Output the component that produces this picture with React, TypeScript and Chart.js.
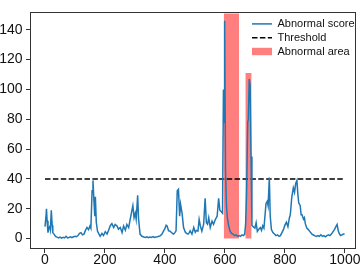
import React, { useEffect, useRef } from "react";
import { Chart, registerables } from "chart.js";

Chart.register(...registerables);

// ---- data ----
const scoreT = [
  0, 3, 5, 7, 10, 13, 16, 18, 21, 24, 26, 30, 35, 40, 45, 50, 55, 60, 65, 70,
  75, 80, 85, 90, 95, 100, 105, 110, 115, 120, 125, 130, 135, 140, 145, 150, 153, 157, 160, 163,
  166, 168, 171, 175, 180, 184, 190, 195, 201, 207, 212, 218, 223, 229, 234, 240, 245, 251, 257, 262,
  268, 273, 279, 284, 290, 293, 297, 301, 304, 309, 312, 317, 323, 330, 335, 340, 345, 350, 355, 360,
  365, 370, 375, 380, 385, 390, 395, 399, 404, 407, 412, 417, 421, 425, 429, 433, 437, 441, 445, 449,
  452, 457, 462, 468, 472, 477, 481, 484, 490, 496, 501, 505, 510, 514, 518, 523, 529, 534, 538, 542,
  546, 551, 557, 562, 568, 574, 579, 583, 588, 592, 595, 597, 599, 602, 605, 608, 612, 617, 622, 627,
  632, 637, 642, 647, 652, 657, 662, 666, 669, 672, 676, 678, 681, 684, 687, 690, 694, 700, 704, 708,
  713, 718, 722, 726, 730, 733, 737, 741, 744, 748, 751, 755, 760, 765, 770, 775, 780, 785, 790, 795,
  800, 805, 810, 815, 818, 823, 828, 832, 836, 840, 843, 846, 851, 854, 857, 862, 865, 868, 873, 878,
  884, 890, 895, 900, 905, 910, 915, 920, 925, 930, 935, 940, 945, 950, 955, 960, 965, 970, 974, 978,
  982, 986, 990, 995, 999,
];
const scoreV = [
  8, 14, 20, 12, 4, 7, 8, 6, 19, 9, 4, 3, 1.5, 1, 0.5, 1, 0.3, 0.8, 0.4, 1.5,
  0.5, 0.7, 1.2, 0.6, 1.2, 1.5, 1.2, 2, 3.5, 4, 2.5, 3, 5.5, 7.5, 6, 8.5, 7, 32, 39, 26,
  15, 28, 11, 5, 3, 1.5, 3.5, 2, 4.6, 3, 5.6, 8.8, 10, 7.4, 9.5, 8.5, 6.3, 7.4, 4, 8.5,
  5.6, 9.5, 7.4, 12.8, 19, 22, 14, 17, 13, 29, 13, 3, 1.5, 1, 0.8, 1.2, 0.6, 1, 0.8, 1.3,
  0.7, 1, 1.2, 1.5, 2, 3, 5, 6.3, 9, 8.5, 5.2, 5, 4.2, 3.5, 3, 4, 5.2, 32, 33, 15,
  23, 17, 7.4, 4.2, 3.5, 3, 4, 5.2, 3, 7.4, 4.2, 5.5, 5, 12.8, 8.5, 5, 9.6, 27, 10.6, 9.6,
  14, 7.4, 11.7, 9.6, 12.8, 15, 27, 19, 18, 17, 100, 78, 146, 45, 22, 14, 9, 5, 3.5, 3,
  2, 2.5, 1.5, 2, 1.5, 2.5, 2, 3, 10, 30, 78, 80, 107, 103, 55, 9, 8, 7, 10.6, 4.8,
  6.3, 7.4, 5.5, 8.5, 7, 14, 23.6, 25, 22, 41, 15, 6, 4, 3, 2, 2.5, 1.5, 2, 4, 6,
  9, 11, 8, 14, 16, 28, 34, 31, 37, 39, 30, 24, 22, 16, 16, 13, 14, 10, 7, 6,
  4.5, 3, 2.4, 1.8, 1.5, 2, 1.5, 2.5, 1.5, 2, 1.2, 2, 2.5, 2, 3, 4.5, 6, 8, 9.5, 5,
  3, 2, 2.5, 3, 3,
];
const thresholdValue = 40;
const thresholdStart = 0;
const thresholdEnd = 1000;
const areaStart = [596, 668];
const areaEnd = [647, 689];
const areaTop = [151, 111];
const xTicks = [0, 200, 400, 600, 800, 1000];
const yTicks = [0, 20, 40, 60, 80, 100, 120, 140];
const legendLabels = ["Abnormal score", "Threshold", "Abnormal area"];

const FONT = "'Liberation Sans', Arial, Helvetica, sans-serif";
const BLUE = "#1f77b4";
const RED = "rgba(255, 0, 0, 0.5)";
const AXIS = "#333333";

const framePlugin = {
  id: "frame",
  afterDraw(chart: any) {
    const { ctx, chartArea } = chart;
    ctx.save();
    ctx.strokeStyle = AXIS;
    ctx.lineWidth = 1;
    ctx.strokeRect(
      Math.round(chartArea.left) + 0.5,
      Math.round(chartArea.top) + 0.5,
      Math.round(chartArea.right - chartArea.left) - 1,
      Math.round(chartArea.bottom - chartArea.top) - 1
    );
    ctx.restore();
  },
};

const legendPlugin = {
  id: "insideLegend",
  afterDraw(chart: any) {
    const { ctx, chartArea } = chart;
    const x0 = chartArea.right - 104;
    const y0 = chartArea.top + 12;
    const rowH = 13.8;
    ctx.save();
    ctx.font = `11px ${FONT}`;
    ctx.textBaseline = "middle";
    ctx.fillStyle = "#111";
    legendLabels.forEach((label, i) => {
      const y = y0 + i * rowH;
      if (i === 0 || i === 1) {
        ctx.beginPath();
        ctx.strokeStyle = i === 0 ? BLUE : "#000";
        ctx.lineWidth = 1.5;
        ctx.setLineDash(i === 1 ? [5.5, 2.4] : []);
        ctx.moveTo(x0, y);
        ctx.lineTo(x0 + 20, y);
        ctx.stroke();
        ctx.setLineDash([]);
      } else {
        ctx.fillStyle = RED;
        ctx.fillRect(x0, y - 3.7, 20, 7.4);
        ctx.fillStyle = "#111";
      }
      ctx.fillText(label, x0 + 25.5, y + 0.5);
    });
    ctx.restore();
  },
};

export default function App() {
  const ref = useRef<HTMLCanvasElement | null>(null);

  useEffect(() => {
    document.body.style.margin = "0";
    const canvas = ref.current;
    if (!canvas) return;

    const areaDatasets = areaStart.map((s, i) => ({
      type: "line" as const,
      label: "Abnormal area",
      data: [
        { x: s, y: areaTop[i] },
        { x: areaEnd[i], y: areaTop[i] },
      ],
      borderColor: RED,
      borderWidth: 0,
      backgroundColor: RED,
      fill: "origin",
      pointRadius: 0,
      order: 3,
    }));

    const chart = new Chart(canvas, {
      type: "line",
      data: {
        datasets: [
          {
            label: "Abnormal score",
            data: scoreT.map((t, i) => ({ x: t, y: scoreV[i] })),
            borderColor: BLUE,
            borderWidth: 1.5,
            pointRadius: 0,
            tension: 0,
            fill: false,
            order: 0,
          },
          {
            label: "Threshold",
            data: [
              { x: thresholdStart, y: thresholdValue },
              { x: thresholdEnd, y: thresholdValue },
            ],
            borderColor: "#000",
            borderWidth: 1.5,
            borderDash: [5.5, 2.4],
            pointRadius: 0,
            fill: false,
            order: 1,
          },
          ...areaDatasets,
        ] as any,
      },
      options: {
        animation: false,
        responsive: false,
        devicePixelRatio: 1,
        layout: { padding: { top: 4, right: 5, left: 0, bottom: 0 } },
        plugins: {
          legend: { display: false },
          tooltip: { enabled: false },
        },
        scales: {
          x: {
            type: "linear",
            min: -50,
            max: 1037,
            afterBuildTicks: (s: any) => {
              s.ticks = xTicks.map((v) => ({ value: v }));
            },
            afterFit: (s: any) => {
              s.height = 18;
            },
            ticks: {
              font: { family: FONT, size: 14 },
              color: "#111",
              padding: -1,
              maxRotation: 0,
              autoSkip: false,
              callback: (v: any) => String(v),
            },
            grid: {
              drawOnChartArea: false,
              drawTicks: true,
              tickLength: 4,
              color: AXIS,
              lineWidth: 1,
            },
            border: { display: false },
          },
          y: {
            type: "linear",
            min: -7,
            max: 152,
            afterBuildTicks: (s: any) => {
              s.ticks = yTicks.map((v) => ({ value: v }));
            },
            afterFit: (s: any) => {
              s.width = 30;
            },
            ticks: {
              font: { family: FONT, size: 14 },
              color: "#111",
              padding: 3.5,
              autoSkip: false,
              callback: (v: any) => String(v),
            },
            grid: {
              drawOnChartArea: false,
              drawTicks: true,
              tickLength: 4,
              color: AXIS,
              lineWidth: 1,
            },
            border: { display: false },
          },
        },
      } as any,
      plugins: [framePlugin, legendPlugin],
    });

    return () => chart.destroy();
  }, []);

  return (
    <div style={{ width: 361, height: 267 }}>
      <canvas ref={ref} width={361} height={267} style={{ display: "block" }} />
    </div>
  );
}
